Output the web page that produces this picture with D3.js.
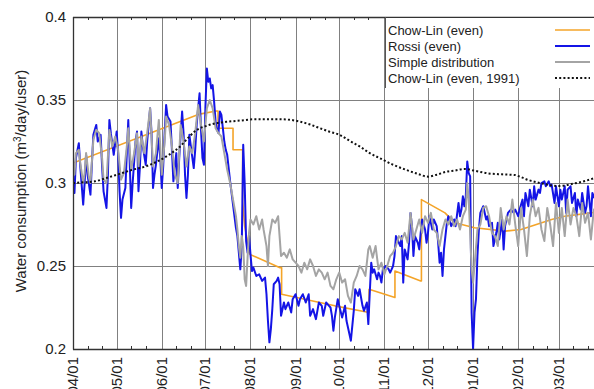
<!DOCTYPE html>
<html>
<head>
<meta charset="utf-8">
<script src="https://cdn.jsdelivr.net/npm/d3@7"></script>
<style>
  html, body { margin: 0; padding: 0; background: #fff; }
  svg { display: block; font-family: "Liberation Sans", Arial, Helvetica, sans-serif; }
</style>
</head>
<body>
<svg id="chart" width="594" height="389"></svg>
<script>
// Daily water consumption per user, April to March (days counted from April 1)
const monthLabels = ["04/01","05/01","06/01","07/01","08/01","09/01","10/01","11/01","12/01","01/01","02/01","03/01"];
const yTicks = [0.2, 0.25, 0.3, 0.35, 0.4];
const yTickLabels = ["0.2", "0.25", "0.3", "0.35", "0.4"];
const seriesNames = ["Chow-Lin (even)", "Rossi (even)", "Simple distribution", "Chow-Lin (even, 1991)"];

// Chow-Lin (even): [day, value]
const chowLin = [[0,0.312],[87,0.3415],[98.5,0.3434],[99.7,0.3434],[99.7,0.333],[110,0.333],[110,0.320],[116.6,0.320],[116.6,0.289],[118,0.274],[121.6,0.257],[142.3,0.249],[143.4,0.249],[143.4,0.233],[180,0.226],[203.5,0.222],[203.5,0.236],[221.3,0.231],[221.3,0.247],[239,0.241],[239.5,0.241],[239.5,0.290],[255.7,0.282],[262.5,0.276],[276,0.273],[297,0.271],[308,0.272],[329,0.278],[338,0.280],[356,0.282],[365,0.283]];

// Rossi (even): [day, value]
const rossi = [[0,0.300],[1,0.294],[2,0.315],[4,0.324],[5,0.310],[7,0.287],[8,0.300],[9,0.317],[10,0.305],[12,0.293],[13,0.312],[14,0.329],[16,0.335],[17,0.325],[19,0.329],[20,0.310],[21,0.295],[23,0.285],[24,0.305],[25,0.338],[26,0.330],[28,0.317],[30,0.331],[31,0.318],[32,0.295],[33,0.279],[34,0.290],[36,0.297],[37,0.318],[38,0.338],[39,0.312],[40,0.285],[41,0.300],[43,0.325],[44,0.331],[45,0.295],[46,0.310],[47,0.331],[48,0.322],[50,0.311],[51,0.325],[53,0.345],[54,0.330],[55,0.297],[56,0.305],[57,0.311],[59,0.327],[60,0.315],[61,0.297],[62,0.310],[63,0.330],[64,0.347],[65,0.340],[67,0.337],[68,0.320],[69,0.301],[70,0.310],[71,0.318],[72,0.297],[73,0.315],[75,0.343],[76,0.330],[77,0.305],[78,0.291],[79,0.305],[80,0.329],[81,0.322],[83,0.309],[84,0.320],[85,0.335],[86,0.345],[87,0.354],[88,0.332],[89,0.315],[90,0.311],[91,0.345],[92,0.369],[93,0.361],[94,0.363],[95,0.357],[96,0.359],[97,0.349],[98,0.337],[99,0.332],[100,0.330],[101,0.343],[102,0.341],[103,0.333],[104,0.325],[105,0.320],[106,0.317],[108,0.301],[110,0.287],[112,0.273],[113,0.268],[114,0.258],[115,0.248],[116,0.262],[117,0.323],[118,0.300],[119,0.265],[120,0.258],[121,0.268],[122,0.257],[123,0.247],[124,0.249],[126,0.244],[128,0.245],[130,0.241],[132,0.243],[133,0.233],[134,0.217],[135,0.204],[136,0.212],[137,0.224],[138,0.239],[140,0.241],[141,0.243],[142,0.239],[143,0.220],[145,0.228],[146,0.224],[148,0.228],[150,0.222],[151,0.230],[153,0.233],[155,0.226],[156,0.230],[158,0.233],[160,0.228],[162,0.233],[163,0.220],[165,0.224],[167,0.218],[169,0.228],[171,0.226],[172,0.220],[174,0.228],[176,0.226],[177,0.225],[178,0.220],[179,0.211],[180,0.219],[182,0.230],[183,0.226],[185,0.219],[187,0.226],[188,0.217],[190,0.209],[191,0.205],[193,0.223],[194,0.236],[196,0.232],[197,0.236],[199,0.226],[200,0.223],[202,0.228],[203,0.215],[204,0.234],[205,0.252],[206,0.246],[207,0.248],[209,0.242],[210,0.246],[211,0.244],[212,0.240],[213,0.248],[215,0.250],[217,0.248],[218,0.246],[219,0.248],[220,0.250],[221,0.256],[222,0.268],[224,0.264],[225,0.262],[226,0.268],[227,0.240],[228,0.260],[230,0.254],[231,0.264],[232,0.282],[233,0.274],[234,0.256],[235,0.268],[237,0.264],[238,0.260],[239,0.270],[240,0.278],[242,0.272],[243,0.264],[244,0.270],[245,0.280],[247,0.272],[248,0.278],[250,0.274],[251,0.264],[252,0.252],[253,0.258],[254,0.244],[255,0.260],[257,0.276],[258,0.280],[260,0.274],[262,0.278],[263,0.274],[265,0.288],[266,0.280],[267,0.284],[268,0.292],[269,0.286],[270,0.292],[271,0.313],[272,0.306],[273,0.304],[274,0.222],[275,0.200],[276,0.222],[277,0.230],[278,0.256],[279,0.272],[280,0.282],[282,0.286],[284,0.278],[285,0.280],[286,0.274],[288,0.276],[289,0.262],[291,0.270],[292,0.276],[293,0.266],[295,0.278],[296,0.260],[297,0.274],[299,0.282],[301,0.284],[303,0.282],[304,0.284],[306,0.280],[307,0.284],[309,0.290],[310,0.280],[311,0.294],[313,0.286],[314,0.296],[316,0.286],[317,0.298],[318,0.290],[320,0.296],[321,0.294],[322,0.300],[324,0.301],[325,0.298],[327,0.301],[328,0.298],[329,0.299],[331,0.288],[332,0.298],[334,0.286],[335,0.296],[336,0.290],[338,0.298],[339,0.282],[340,0.296],[342,0.298],[343,0.288],[345,0.294],[346,0.280],[347,0.290],[349,0.284],[350,0.294],[352,0.282],[353,0.286],[354,0.298],[356,0.280],[357,0.294],[359,0.290],[361,0.286],[363,0.296]];

// Simple distribution: [day, value]
const simple = [[0,0.310],[1,0.305],[2,0.318],[4,0.320],[5,0.312],[7,0.300],[8,0.306],[9,0.318],[11,0.303],[12,0.300],[14,0.326],[16,0.332],[18,0.330],[20,0.315],[21,0.302],[23,0.300],[25,0.332],[27,0.322],[29,0.328],[31,0.320],[33,0.302],[35,0.306],[37,0.322],[38,0.333],[40,0.308],[42,0.318],[44,0.330],[45,0.310],[47,0.328],[49,0.318],[51,0.330],[53,0.345],[55,0.310],[57,0.318],[59,0.338],[61,0.305],[63,0.325],[64,0.340],[66,0.335],[68,0.322],[70,0.305],[72,0.300],[74,0.335],[76,0.325],[78,0.310],[80,0.322],[82,0.318],[84,0.330],[86,0.347],[88,0.335],[89,0.330],[90,0.325],[92,0.345],[94,0.350],[96,0.345],[98,0.333],[100,0.330],[102,0.328],[104,0.318],[106,0.308],[108,0.300],[110,0.290],[112,0.280],[113,0.272],[114,0.262],[115,0.255],[116,0.268],[117,0.262],[118,0.242],[119,0.238],[120,0.255],[121,0.270],[122,0.278],[124,0.275],[126,0.280],[128,0.272],[130,0.278],[131,0.272],[133,0.262],[134,0.250],[135,0.268],[137,0.278],[139,0.276],[141,0.280],[142,0.268],[143,0.256],[145,0.258],[147,0.255],[149,0.260],[151,0.254],[153,0.252],[155,0.250],[157,0.246],[159,0.252],[161,0.248],[163,0.254],[165,0.250],[167,0.244],[169,0.248],[171,0.246],[173,0.242],[175,0.246],[177,0.238],[179,0.236],[181,0.242],[183,0.246],[185,0.240],[187,0.242],[189,0.232],[191,0.228],[193,0.240],[195,0.244],[197,0.250],[199,0.248],[201,0.244],[203,0.260],[204,0.262],[206,0.255],[208,0.262],[210,0.248],[212,0.252],[214,0.245],[216,0.250],[218,0.256],[220,0.258],[222,0.262],[224,0.268],[226,0.266],[228,0.270],[230,0.264],[232,0.282],[234,0.266],[236,0.272],[238,0.278],[240,0.270],[242,0.280],[244,0.276],[246,0.282],[248,0.272],[250,0.270],[252,0.262],[254,0.272],[256,0.278],[258,0.275],[260,0.280],[262,0.274],[264,0.278],[266,0.272],[268,0.280],[270,0.284],[271,0.300],[272,0.290],[273,0.270],[274,0.248],[275,0.240],[276,0.250],[278,0.272],[280,0.275],[282,0.285],[284,0.286],[286,0.280],[288,0.270],[290,0.268],[292,0.262],[294,0.285],[296,0.272],[298,0.280],[300,0.275],[302,0.290],[304,0.275],[306,0.262],[308,0.285],[310,0.272],[312,0.256],[314,0.280],[316,0.290],[318,0.280],[320,0.285],[322,0.272],[324,0.265],[326,0.285],[328,0.275],[330,0.262],[332,0.288],[334,0.270],[336,0.285],[338,0.268],[340,0.290],[342,0.275],[344,0.285],[346,0.280],[348,0.268],[350,0.288],[352,0.276],[354,0.282],[356,0.266],[358,0.284],[360,0.276],[363,0.268]];

// Chow-Lin (even, 1991): [day, value]
const chowLin1991 = [[0,0.300],[7,0.3004],[15,0.301],[23,0.303],[32,0.3055],[41,0.308],[50,0.310],[57.5,0.3128],[66,0.317],[73.5,0.3219],[80,0.328],[85,0.3319],[92,0.3345],[98.8,0.3361],[107,0.3370],[114.8,0.3376],[125,0.3384],[142.3,0.3384],[156,0.3370],[163,0.3352],[169.8,0.333],[176,0.331],[183.5,0.3289],[190,0.3255],[197.3,0.3219],[204,0.318],[211,0.3149],[220,0.311],[229.3,0.3078],[237,0.3055],[244.2,0.3038],[250,0.305],[256.8,0.3068],[262.5,0.3075],[269.4,0.3085],[277,0.3072],[285.4,0.3058],[295,0.3052],[303.8,0.3048],[308,0.3035],[313,0.3018],[322,0.2998],[333.6,0.2982],[345,0.2998],[352,0.3012],[358,0.3028],[365,0.3045]];

const W = 594, H = 389;
const plotLeft = 73, plotTop = 17, plotBottom = 349;
const startDate = new Date(Date.UTC(2001, 3, 1));
const endDate = new Date(Date.UTC(2002, 3, 1));
const toDate = d => new Date(startDate.getTime() + d * 864e5);

const x = d3.scaleUtc().domain([startDate, endDate]).range([plotLeft, 604]);
const y = d3.scaleLinear().domain([0.2, 0.4]).range([plotBottom, plotTop]);

const svg = d3.select("#chart");

svg.append("defs").append("clipPath").attr("id", "plotClip")
  .append("rect").attr("x", plotLeft).attr("y", plotTop)
  .attr("width", W - plotLeft).attr("height", plotBottom - plotTop);

const monthStarts = d3.utcMonth.range(startDate, endDate);
const minorDays = d3.utcDay.range(startDate, endDate).filter(d => [11, 21].includes(d.getUTCDate()));

// grid
const grid = svg.append("g").attr("stroke", "#808080").attr("stroke-width", 1);
grid.selectAll("line.v").data(monthStarts.slice(1)).join("line")
  .attr("x1", d => Math.round(x(d)) + 0.5).attr("x2", d => Math.round(x(d)) + 0.5)
  .attr("y1", plotTop).attr("y2", plotBottom);
grid.selectAll("line.h").data(yTicks.filter(v => v > 0.2 && v < 0.4)).join("line")
  .attr("x1", plotLeft).attr("x2", W)
  .attr("y1", d => Math.round(y(d)) + 0.5).attr("y2", d => Math.round(y(d)) + 0.5);

// series
const line = d3.line().x(d => x(toDate(d[0]))).y(d => y(d[1]));
const plot = svg.append("g").attr("clip-path", "url(#plotClip)").attr("fill", "none")
  .attr("stroke-linejoin", "round");

plot.append("path").datum(chowLin).attr("d", line)
  .attr("stroke", "#f4a428").attr("stroke-width", 1.6);
plot.append("path").datum(rossi).attr("d", line)
  .attr("stroke", "#1414e6").attr("stroke-width", 2);
plot.append("path").datum(simple).attr("d", line)
  .attr("stroke", "#a4a4a4").attr("stroke-width", 2);
plot.append("path").datum(chowLin1991).attr("d", d3.line().curve(d3.curveMonotoneX).x(d => x(toDate(d[0]))).y(d => y(d[1])))
  .attr("stroke", "#111").attr("stroke-width", 2).attr("stroke-dasharray", "2,2.2");

// axes frame
const axisColor = "#333";
svg.append("line").attr("x1", plotLeft + 0.5).attr("x2", plotLeft + 0.5)
  .attr("y1", plotTop).attr("y2", plotBottom + 0.5).attr("stroke", axisColor).attr("stroke-width", 1.3);
svg.append("line").attr("x1", plotLeft).attr("x2", W)
  .attr("y1", plotBottom + 0.5).attr("y2", plotBottom + 0.5).attr("stroke", axisColor).attr("stroke-width", 1.3);
svg.append("line").attr("x1", plotLeft).attr("x2", W)
  .attr("y1", plotTop + 0.5).attr("y2", plotTop + 0.5).attr("stroke", axisColor).attr("stroke-width", 1.3);

// minor ticks on bottom and top axes
const ticks = svg.append("g").attr("stroke", axisColor).attr("stroke-width", 1);
ticks.selectAll("line.b").data(minorDays).join("line")
  .attr("x1", d => Math.round(x(d)) + 0.5).attr("x2", d => Math.round(x(d)) + 0.5)
  .attr("y1", plotBottom).attr("y2", plotBottom - 3);
ticks.selectAll("line.t").data(minorDays).join("line")
  .attr("x1", d => Math.round(x(d)) + 0.5).attr("x2", d => Math.round(x(d)) + 0.5)
  .attr("y1", plotTop).attr("y2", plotTop + 3);

// y tick labels
svg.append("g").selectAll("text").data(yTicks).join("text")
  .attr("x", 66).attr("y", d => y(d)).attr("dy", "0.35em")
  .attr("text-anchor", "end").attr("font-size", 15).attr("fill", "#222")
  .text((d, i) => yTickLabels[i]);

// x tick labels, rotated
svg.append("g").selectAll("text").data(monthStarts).join("text")
  .attr("transform", d => `translate(${x(d) + 5},357) rotate(-90)`)
  .attr("text-anchor", "end").attr("font-size", 15).attr("fill", "#222")
  .text((d, i) => monthLabels[i]);

// y axis title
const yTitle = svg.append("text")
  .attr("transform", `translate(26,181) rotate(-90)`)
  .attr("text-anchor", "middle").attr("font-size", 15).attr("fill", "#222");
yTitle.append("tspan").text("Water consumption (m");
yTitle.append("tspan").attr("font-size", 10).attr("dy", -5).text("3");
yTitle.append("tspan").attr("dy", 5).text("/day/user)");

// legend
const legend = svg.append("g");
legend.append("rect").attr("x", 385).attr("y", plotTop + 1).attr("width", W - 385).attr("height", 70)
  .attr("fill", "#fff");
legend.append("line").attr("x1", 385.5).attr("x2", 385.5).attr("y1", plotTop).attr("y2", 88)
  .attr("stroke", "#555").attr("stroke-width", 1);
const legendStyles = [
  { stroke: "#f4a428", width: 1.6, dash: null },
  { stroke: "#1414e6", width: 2, dash: null },
  { stroke: "#a4a4a4", width: 2, dash: null },
  { stroke: "#111", width: 2, dash: "2,2.2" }
];
seriesNames.forEach((name, i) => {
  const by = 34.5 + i * 16;
  legend.append("text").attr("x", 388).attr("y", by).attr("font-size", 13).attr("fill", "#222").text(name);
  legend.append("line").attr("x1", 555).attr("x2", 590).attr("y1", by - 4.5).attr("y2", by - 4.5)
    .attr("stroke", legendStyles[i].stroke).attr("stroke-width", legendStyles[i].width)
    .attr("stroke-dasharray", legendStyles[i].dash);
});
</script>
</body>
</html>
